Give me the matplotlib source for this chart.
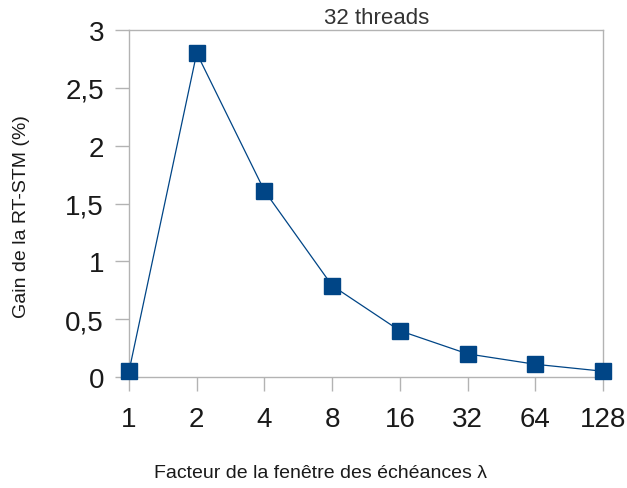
import matplotlib as mpl
mpl.use('Agg')
import matplotlib.pyplot as plt

# window factor (categories) and gain of RT-STM in %
facteurs = ["1", "2", "4", "8", "16", "32", "64", "128"]
gain = [0.05, 2.80, 1.61, 0.79, 0.40, 0.20, 0.11, 0.05]
yticks = [0, 0.5, 1, 1.5, 2, 2.5, 3]
ylabels = ["0", "0,5", "1", "1,5", "2", "2,5", "3"]

plt.rcParams['font.family'] = ['Liberation Sans', 'DejaVu Sans']

fig = plt.figure(figsize=(6.27, 4.89), dpi=100)
ax = fig.add_axes([129/627, 1-378/489, (603-129)/627, (378-31)/489])

x = list(range(len(facteurs)))
ax.plot(x, gain, '-', color='#004586', lw=0.9, marker='s', markersize=11,
        markerfacecolor='#004586', markeredgecolor='#004586', clip_on=False, zorder=3)

ax.set_xlim(0, len(facteurs)-1)
ax.set_ylim(0, 3)
ax.set_xticks(x)
ax.set_xticklabels(facteurs, fontsize=20, color='#1a1a1a')
ax.set_yticks(yticks)
ax.set_yticklabels(ylabels, fontsize=20, color='#1a1a1a')
ax.tick_params(axis='both', length=10, width=1, color='#b3b3b3')
ax.tick_params(axis='y', pad=8)
ax.tick_params(axis='x', pad=11)
for s in ax.spines.values():
    s.set_color('#b3b3b3')
    s.set_linewidth(1)

fig.text(377/627, 1-18/489, "32 threads", ha='center', va='center', fontsize=16, color='#333333')
fig.text(22/627, 1-217/489, "Gain de la RT-STM (%)", ha='center', va='center',
         rotation=90, fontsize=14, color='#1a1a1a')
fig.text(321/627, 1-474/489, "Facteur de la fenêtre des échéances λ", ha='center',
         va='center', fontsize=14, color='#1a1a1a')

fig.savefig("out.png", dpi=100)
